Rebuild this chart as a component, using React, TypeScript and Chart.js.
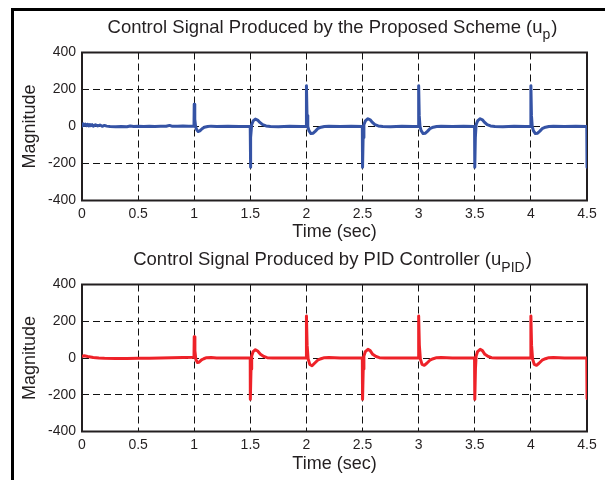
import React, { useEffect, useRef } from "react";
import { Chart, registerables } from "chart.js";

Chart.register(...registerables);

// ---------- data ----------
const timeUp = [
  0, 0.01, 0.02, 0.03, 0.04, 0.05, 0.06, 0.07, 0.08, 0.09, 0.1, 0.12, 0.14, 0.16, 0.18, 0.2, 0.22, 0.25, 0.3, 0.35, 0.4, 0.43, 0.46, 0.5, 0.55, 0.6, 0.65, 0.7, 0.75, 0.78, 0.8, 0.85, 0.9, 0.95, 0.998,
  1.0, 1.005, 1.012, 1.022, 1.035, 1.05, 1.07, 1.09, 1.12, 1.15, 1.2, 1.3, 1.4, 1.499,
  1.5, 1.505, 1.512, 1.525, 1.545, 1.565, 1.585, 1.61, 1.64, 1.68, 1.75, 1.85, 1.95, 1.998,
  2.0, 2.005, 2.012, 2.022, 2.04, 2.06, 2.08, 2.1, 2.13, 2.16, 2.2, 2.3, 2.4, 2.498,
  2.5, 2.505, 2.512, 2.525, 2.548, 2.568, 2.588, 2.61, 2.64, 2.68, 2.75, 2.85, 2.95, 2.998,
  3.0, 3.005, 3.012, 3.022, 3.04, 3.06, 3.08, 3.1, 3.13, 3.16, 3.2, 3.3, 3.4, 3.498,
  3.5, 3.505, 3.512, 3.525, 3.548, 3.568, 3.588, 3.61, 3.64, 3.68, 3.75, 3.85, 3.95, 3.998,
  4.0, 4.005, 4.012, 4.022, 4.04, 4.06, 4.08, 4.1, 4.13, 4.16, 4.2, 4.3, 4.4, 4.498,
  4.5,
];
const valueUp = [
  2, 14, 6, 13, 4, 12, 3, 11, 5, 10, 2, 9, 3, 8, 1, 6, 2, 0, -2, 0, -1, 3, 0, 1, 0, 1, 0, 2, 1, 6, 2, 1, 3, 2, 2,
  120, 40, 0, -18, -27, -24, -12, -4, 0, 2, 0, 1, 0, 0,
  -220, -60, 10, 30, 40, 35, 22, 10, 3, 0, -1, 1, 0, 0,
  220, 60, 0, -22, -38, -36, -25, -12, -4, 0, 1, 0, 1, 0,
  -220, -60, 10, 30, 42, 36, 22, 10, 3, 0, -1, 1, 0, 0,
  220, 60, 0, -22, -38, -36, -25, -12, -4, 0, 1, 0, 1, 0,
  -220, -60, 10, 30, 42, 36, 22, 10, 3, 0, -1, 1, 0, 0,
  220, 60, 0, -22, -38, -36, -25, -12, -4, 0, 1, 0, 1, 0,
  -220,
];

const timePid = [
  0, 0.02, 0.05, 0.1, 0.15, 0.2, 0.3, 0.4, 0.5, 0.6, 0.7, 0.8, 0.9, 0.998,
  1.0, 1.006, 1.015, 1.03, 1.045, 1.065, 1.085, 1.11, 1.15, 1.2, 1.3, 1.4, 1.499,
  1.5, 1.506, 1.512, 1.525, 1.545, 1.565, 1.59, 1.62, 1.65, 1.7, 1.8, 1.9, 1.998,
  2.0, 2.006, 2.015, 2.03, 2.05, 2.07, 2.1, 2.13, 2.16, 2.2, 2.3, 2.4, 2.498,
  2.5, 2.506, 2.512, 2.525, 2.548, 2.568, 2.59, 2.62, 2.65, 2.7, 2.8, 2.9, 2.998,
  3.0, 3.006, 3.015, 3.03, 3.05, 3.07, 3.1, 3.13, 3.16, 3.2, 3.3, 3.4, 3.498,
  3.5, 3.506, 3.512, 3.525, 3.548, 3.568, 3.59, 3.62, 3.65, 3.7, 3.8, 3.9, 3.998,
  4.0, 4.006, 4.015, 4.03, 4.05, 4.07, 4.1, 4.13, 4.16, 4.2, 4.3, 4.4, 4.498,
  4.5,
];
const valuePid = [
  10, 12, 8, 3, 0, -2, -3, -3, -2, -1, 0, 2, 3, 4,
  115, 40, -10, -25, -22, -10, -4, 2, 3, 0, 0, 0, 0,
  -225, -60, 10, 35, 45, 38, 20, 8, 2, 0, 0, 0, 0,
  228, 70, -5, -35, -42, -30, -12, -4, 2, 3, 0, 0, 0,
  -225, -60, 10, 35, 47, 40, 20, 8, 2, 0, 0, 0, 0,
  228, 70, -5, -35, -40, -30, -12, -4, 2, 3, 0, 0, 0,
  -225, -60, 10, 35, 47, 40, 20, 8, 2, 0, 0, 0, 0,
  228, 70, -5, -35, -40, -30, -12, -4, 2, 3, 0, 0, 0,
  -220,
];

const xTickValues = [0, 0.5, 1, 1.5, 2, 2.5, 3, 3.5, 4, 4.5];
const yTickValues = [-400, -200, 0, 200, 400];

const titleUpMain = "Control Signal Produced by the Proposed Scheme (u";
const titleUpSub = "p";
const titlePidMain = "Control Signal Produced by PID Controller (u";
const titlePidSub = "PID";
const titleTail = ")";
const xAxisTitle = "Time (sec)";
const yAxisTitle = "Magnitude";

// ---------- styling ----------
const FONT = "'Liberation Sans', Arial, Helvetica, sans-serif";
const INK = "#231f20";

const boxTitlePlugin = {
  id: "boxTitle",
  beforeDatasetsDraw(chart: any) {
    const { ctx, chartArea: a } = chart;
    ctx.save();
    ctx.setLineDash([]);
    ctx.strokeStyle = INK;
    ctx.lineWidth = 2;
    ctx.strokeRect(a.left, a.top, a.right - a.left, a.bottom - a.top);
    ctx.restore();
  },
  afterDraw(chart: any, _args: any, opts: any) {
    const { ctx, chartArea: a } = chart;
    ctx.save();
    ctx.fillStyle = INK;
    ctx.textBaseline = "alphabetic";
    ctx.textAlign = "left";
    const mainFont = `18.5px ${FONT}`;
    const subFont = `${opts.subSize}px ${FONT}`;
    ctx.font = mainFont;
    const wMain = ctx.measureText(opts.main).width;
    const wTail = ctx.measureText(opts.tail).width;
    ctx.font = subFont;
    const wSub = ctx.measureText(opts.sub).width;
    const total = wMain + wSub + wTail + 1;
    const cx = (a.left + a.right) / 2 - 2;
    let x = cx - total / 2;
    const y = opts.baseline;
    ctx.font = mainFont;
    ctx.fillText(opts.main, x, y);
    x += wMain;
    ctx.font = subFont;
    ctx.fillText(opts.sub, x, y + opts.subDrop);
    x += wSub + 1;
    ctx.font = mainFont;
    ctx.fillText(opts.tail, x, y);
    ctx.restore();
  },
};

function makeConfig(
  times: number[],
  values: number[],
  color: string,
  topPad: number,
  xAxisH: number,
  title: { main: string; sub: string; tail: string; baseline: number; subDrop: number; subSize: number }
): any {
  const pts = times.map((t, i) => ({ x: t, y: values[i] }));
  return {
    type: "line",
    data: {
      datasets: [
        {
          data: pts,
          borderColor: color,
          borderWidth: 3,
          pointRadius: 0,
          tension: 0,
          fill: false,
          borderJoinStyle: "round",
          borderCapStyle: "round",
        },
      ],
    },
    options: {
      responsive: false,
      animation: false,
      events: [],
      layout: { padding: { top: topPad, right: 18, bottom: 0, left: 0 } },
      plugins: {
        legend: { display: false },
        title: { display: false },
        tooltip: { enabled: false },
        boxTitle: title,
      },
      scales: {
        x: {
          type: "linear",
          min: 0,
          max: 4.5,
          afterBuildTicks: (s: any) => {
            s.ticks = xTickValues.map((v) => ({ value: v }));
          },
          afterFit: (s: any) => {
            s.height = xAxisH;
          },
          ticks: {
            padding: 5,
            color: INK,
            maxRotation: 0,
            autoSkip: false,
            font: { family: FONT, size: 14 },
            callback: (v: any) => String(v),
          },
          grid: { color: "#111", lineWidth: 1, drawTicks: false },
          border: { display: false, dash: [7, 4] },
          title: {
            display: true,
            text: xAxisTitle,
            color: INK,
            font: { family: FONT, size: 18 },
            padding: { top: 0, bottom: 5 },
          },
        },
        y: {
          type: "linear",
          min: -400,
          max: 400,
          afterBuildTicks: (s: any) => {
            s.ticks = yTickValues.map((v) => ({ value: v }));
          },
          afterFit: (s: any) => {
            s.width = 82;
          },
          ticks: {
            padding: 6,
            color: INK,
            font: { family: FONT, size: 14 },
            callback: (v: any) => String(v),
          },
          grid: { color: "#111", lineWidth: 1, drawTicks: false },
          border: { display: false, dash: [7, 4] },
          title: {
            display: true,
            text: yAxisTitle,
            color: INK,
            font: { family: FONT, size: 18 },
            padding: { top: 19, bottom: 0 },
          },
        },
      },
    },
    plugins: [boxTitlePlugin],
  };
}

function Panel(props: { top: number; height: number; config: () => any }) {
  const ref = useRef<HTMLCanvasElement | null>(null);
  useEffect(() => {
    if (!ref.current) return;
    const chart = new Chart(ref.current, props.config());
    return () => chart.destroy();
  }, []);
  return (
    <canvas
      ref={ref}
      width={605}
      height={props.height}
      style={{ position: "absolute", left: 0, top: props.top, width: 605, height: props.height }}
    />
  );
}

export default function App() {
  return (
    <div style={{ position: "absolute", left: 0, top: 0, width: 605, height: 480, background: "#fff", overflow: "hidden" }}>
      <div style={{ position: "absolute", left: 11, top: 8, width: 2.5, height: 472, background: "#000" }} />
      <div style={{ position: "absolute", left: 11, top: 8, width: 594, height: 2.5, background: "#000" }} />
      <Panel
        top={0}
        height={248}
        config={() =>
          makeConfig(timeUp, valueUp, "#3553a5", 52.5, 47.5, {
            main: titleUpMain,
            sub: titleUpSub,
            tail: titleTail,
            baseline: 33,
            subDrop: 6,
            subSize: 14,
          })
        }
      />
      <Panel
        top={248}
        height={232}
        config={() =>
          makeConfig(timePid, valuePid, "#ee2229", 36.5, 48.5, {
            main: titlePidMain,
            sub: titlePidSub,
            tail: titleTail,
            baseline: 17,
            subDrop: 7,
            subSize: 14,
          })
        }
      />
    </div>
  );
}
